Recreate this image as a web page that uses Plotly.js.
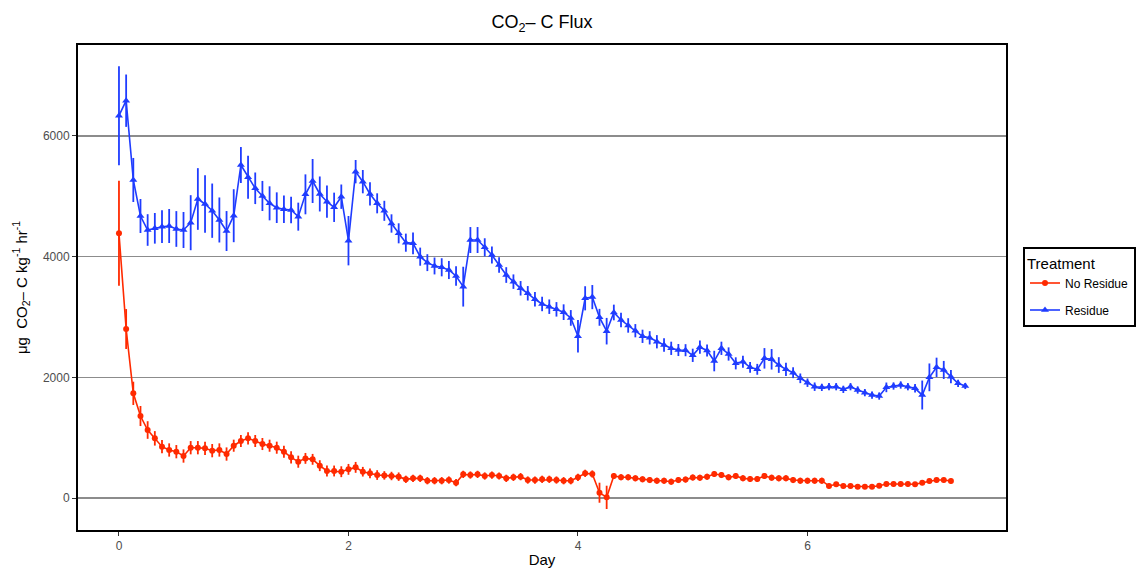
<!DOCTYPE html>
<html>
<head>
<meta charset="utf-8">
<script src="https://cdn.plot.ly/plotly-3.0.1.min.js"></script>
<style>html,body{margin:0;padding:0;background:#fff;}#chart{width:1136px;height:573px;}</style>
</head>
<body>
<div id="chart"></div>
<script>
// Sampling times in hours (every 1.5 h)
const hours = [0,1.5,3,4.5,6,7.5,9,10.5,12,13.5,15,16.5,18,19.5,21,22.5,24,25.5,27,28.5,30,31.5,33,34.5,36,37.5,39,40.5,42,43.5,45,46.5,48,49.5,51,52.5,54,55.5,57,58.5,60,61.5,63,64.5,66,67.5,69,70.5,72,73.5,75,76.5,78,79.5,81,82.5,84,85.5,87,88.5,90,91.5,93,94.5,96,97.5,99,100.5,102,103.5,105,106.5,108,109.5,111,112.5,114,115.5,117,118.5,120,121.5,123,124.5,126,127.5,129,130.5,132,133.5,135,136.5,138,139.5,141,142.5,144,145.5,147,148.5,150,151.5,153,154.5,156,157.5,159,160.5,162,163.5,165,166.5,168,169.5,171,172.5,174,175.5,177];

const residue = [6337,6585,5271,4674,4442,4470,4497,4508,4459,4442,
4563,4956,4873,4762,4608,4425,4679,5519,5316,5133,
5006,4884,4812,4785,4773,4663,5033,5254,5039,4911,
4818,4994,4265,5409,5243,5039,4884,4760,4550,4387,
4232,4221,4000,3901,3846,3824,3779,3680,3503,4276,
4276,4155,4028,3862,3696,3586,3476,3393,3294,3216,
3171,3127,3080,2985,2680,3310,3330,2995,2765,3075,
2950,2860,2773,2680,2655,2590,2536,2481,2453,2450,
2365,2500,2445,2270,2481,2387,2232,2259,2166,2133,
2315,2299,2204,2133,2077,1984,1911,1845,1834,1845,
1845,1801,1845,1790,1746,1707,1690,1834,1856,1873,
1845,1818,1707,2000,2166,2122,2011,1901,1856];

const residueErr = [820,434,365,282,262,254,271,282,296,298,
456,511,475,450,373,331,439,298,356,262,
249,282,254,227,221,232,331,365,290,268,
243,202,409,193,193,193,166,166,152,166,
150,180,150,140,140,150,150,160,330,215,
215,150,140,130,130,120,120,120,120,120,
120,120,130,130,270,200,200,140,220,130,
120,120,110,110,110,110,110,110,100,100,
110,110,100,170,110,110,100,100,90,90,
170,170,130,110,90,80,70,70,60,60,
60,60,60,60,60,60,60,80,60,60,
60,70,240,230,160,150,110,60,50];

const noResidue = [4387,2801,1735,1359,1127,989,851,796,768,696,
834,834,823,785,796,729,867,945,989,945,
895,867,834,768,674,602,657,641,536,448,
448,436,475,508,436,409,381,375,365,354,
310,326,326,287,287,287,298,254,392,381,
392,365,381,365,326,343,354,298,298,310,
310,298,287,287,343,409,398,88,11,365,
343,343,326,310,298,287,287,271,298,305,
340,335,354,398,381,343,365,326,315,315,
365,337,326,326,298,287,287,287,287,199,
227,199,199,188,188,188,204,232,232,232,
232,227,254,282,298,298,282];

const noResidueErr = [870,331,193,166,146,120,110,110,110,110,
110,110,110,110,110,110,100,100,100,100,
100,100,100,100,100,100,90,90,90,90,
90,90,90,90,80,80,80,70,70,70,
60,60,60,60,60,60,60,60,60,60,
60,60,60,60,60,60,60,60,60,60,
60,60,60,60,60,60,60,166,193,50,
50,50,50,50,50,50,50,50,50,50,
50,50,50,50,50,50,50,50,50,50,
50,50,50,50,50,50,50,50,50,40,
40,40,40,40,40,40,40,40,40,40,
40,40,40,40,40,40,40];

const seriesNames = ["No Residue", "Residue"];
const xTicks = [0, 2, 4, 6];
const yTicks = [0, 2000, 4000, 6000];

const days = hours.map(h => h / 24);
const RED = "#ff2a00", BLUE = "#1f3cff";

const traces = [
  {
    x: days.slice(0, noResidue.length), y: noResidue, name: seriesNames[0],
    legendgroup: "a",
    type: "scatter", mode: "lines+markers",
    line: {color: RED, width: 1.6},
    marker: {color: RED, size: 6, symbol: "circle"},
    error_y: {type: "data", array: noResidueErr, visible: true, color: RED, thickness: 1.8, width: 0}
  },
  {
    x: days.slice(0, residue.length), y: residue, name: seriesNames[1],
    legendgroup: "b",
    type: "scatter", mode: "lines+markers",
    line: {color: BLUE, width: 1.6},
    marker: {color: BLUE, size: 7, symbol: "triangle-up"},
    error_y: {type: "data", array: residueErr, visible: true, color: BLUE, thickness: 1.8, width: 0}
  }
];

const layout = {
  width: 1136, height: 573,
  margin: {l: 78, r: 130, t: 45, b: 43},
  paper_bgcolor: "#ffffff", plot_bgcolor: "#ffffff",
  font: {family: "Liberation Sans, Arial, sans-serif", color: "#000"},
  title: {text: "CO<sub>2</sub>\u2013 C Flux", font: {size: 18, color: "#000"},
          x: 0.5, xref: "paper", y: 1 - 22/573, yref: "container", yanchor: "middle"},
  xaxis: {
    range: [-0.357, 7.73], tickvals: xTicks, ticktext: xTicks.map(String),
    showgrid: false, zeroline: false,
    showline: true, mirror: true, linecolor: "#000", linewidth: 2,
    ticks: "outside", ticklen: 4, tickcolor: "#333", tickwidth: 1,
    tickfont: {size: 12, color: "#4d4d4d"},
    title: {text: "Day", font: {size: 15, color: "#000"}, standoff: 2},
    automargin: false
  },
  yaxis: {
    range: [-530, 7508], tickvals: yTicks, ticktext: yTicks.map(String),
    showgrid: true, gridcolor: "#8c8c8c", gridwidth: 1.2, zeroline: false,
    showline: true, mirror: true, linecolor: "#000", linewidth: 2,
    ticks: "outside", ticklen: 4, tickcolor: "#333", tickwidth: 1,
    tickfont: {size: 12, color: "#4d4d4d"},
    title: {text: "\u03bcg  CO<sub>2</sub>\u2013 C kg<sup>-1</sup> hr<sup>-1</sup>", font: {size: 15, color: "#000"}, standoff: 12},
    automargin: false
  },
  showlegend: true,
  legend: {
    xref: "container", yref: "container",
    x: 1023/1136, xanchor: "left", y: 1 - 287/573, yanchor: "middle",
    bgcolor: "#ffffff", bordercolor: "#000", borderwidth: 2,
    traceorder: "grouped", tracegroupgap: 8,
    title: {text: "Treatment", font: {size: 15, color: "#000"}},
    font: {size: 12, color: "#000"}
  }
};

Plotly.newPlot("chart", traces, layout, {displayModeBar: false, staticPlot: true});
</script>
</body>
</html>
